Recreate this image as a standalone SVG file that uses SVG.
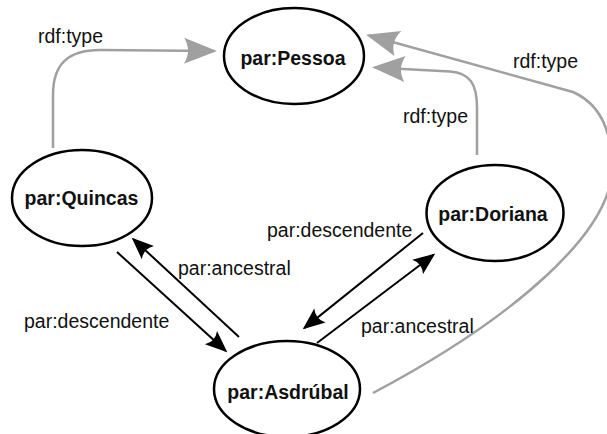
<svg xmlns="http://www.w3.org/2000/svg" width="607" height="434" viewBox="0 0 607 434">
<style>
.node ellipse{fill:#fff;stroke:#000;stroke-width:2.5}
.node text{font-family:"Liberation Sans",Arial,sans-serif;font-weight:bold;font-size:19.5px;text-anchor:middle;fill:#111}
.lbl{font-family:"Liberation Sans",Arial,sans-serif;font-size:19.5px;fill:#111}
.gray{fill:none;stroke:#a0a0a0;stroke-width:2.5;marker-end:url(#ag)}
.blk{fill:none;stroke:#000;stroke-width:2;marker-end:url(#ab)}
</style>
<defs>
<marker id="ag" markerUnits="userSpaceOnUse" orient="auto" refX="0" refY="0" markerWidth="80" markerHeight="80" viewBox="-40 -40 80 80" overflow="visible">
<path d="M3,0 L-30,-13 Q-22,0 -30,13 Z" fill="#a0a0a0"/>
</marker>
<marker id="ab" markerUnits="userSpaceOnUse" orient="auto" refX="0" refY="0" markerWidth="60" markerHeight="60" viewBox="-30 -30 60 60" overflow="visible">
<path d="M2,0 L-20,-9 Q-14,0 -20,9 Z" fill="#000"/>
</marker>
</defs>
<g id="connectors">
<path id="e-quincas-pessoa" class="gray" d="M53,148 L53,95 C53,64 68,50 100,50 L214,51"/>
<path id="e-doriana-pessoa" class="gray" d="M477,155 L477,108 C477,84 470,73 450,71.5 L375,67.5"/>
<path id="e-asdrubal-pessoa" class="gray" d="M373,393 C520,315 612,230 612,168 C612,130 600,104 573,92 L369,35.5"/>
<path id="e-quincas-asdrubal" class="blk" d="M117,252 L225.8,351"/>
<path id="e-asdrubal-quincas" class="blk" d="M239,337 L133.2,239"/>
<path id="e-doriana-asdrubal" class="blk" d="M423,233 L304.3,328.1"/>
<path id="e-asdrubal-doriana" class="blk" d="M317,343 L433.6,254.8"/>
<text class="lbl" x="38" y="43">rdf:type</text>
<text class="lbl" x="403" y="123">rdf:type</text>
<text class="lbl" x="513" y="68">rdf:type</text>
<text class="lbl" x="24" y="328">par:descendente</text>
<text class="lbl" x="178" y="275">par:ancestral</text>
<text class="lbl" x="267" y="237">par:descendente</text>
<text class="lbl" x="361" y="333">par:ancestral</text>
</g>
<g id="pessoa" class="node"><ellipse cx="294" cy="56" rx="70" ry="48"/><text x="293" y="65">par:Pessoa</text></g>
<g id="quincas" class="node"><ellipse cx="82" cy="198" rx="70" ry="48"/><text x="81.5" y="205">par:Quincas</text></g>
<g id="doriana" class="node"><ellipse cx="495" cy="213" rx="68.5" ry="48"/><text x="493" y="221">par:Doriana</text></g>
<g id="asdrubal" class="node"><ellipse cx="287" cy="389" rx="73" ry="48"/><text x="288" y="399">par:Asdrúbal</text></g>
</svg>
